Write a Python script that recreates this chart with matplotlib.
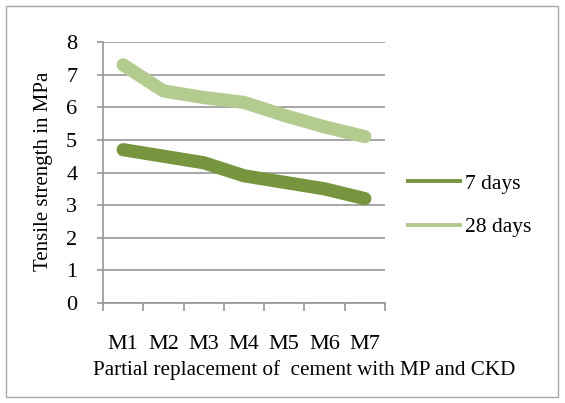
import numpy as np
import matplotlib.pyplot as plt

# Смеси и прочность на растяжение, МПа
mixes = ["M1", "M2", "M3", "M4", "M5", "M6", "M7"]
days7 = [4.7, 4.5, 4.3, 3.9, 3.7, 3.5, 3.2]
days28 = [7.3, 6.5, 6.3, 6.15, 5.75, 5.4, 5.1]

plt.rcParams['font.family'] = 'serif'
plt.rcParams['font.serif'] = ['Liberation Serif', 'DejaVu Serif']

fig = plt.figure(figsize=(5.65, 4.03), dpi=100)
ax = fig.add_axes([0.1823, 0.2481, 0.4991, 0.6476])

# Рамка вокруг всего графика
fig.patches.append(plt.Rectangle((0.011, 0.015), 0.976, 0.97, transform=fig.transFigure,
                                 fill=False, edgecolor="#a6a6a6", lw=1.0))

x = np.arange(len(mixes))
ax.plot(x, days7, color="#77953f", lw=9.5, solid_capstyle="round", solid_joinstyle="round",
        label="7 days")
ax.plot(x, days28, color="#b3cb8f", lw=9.5, solid_capstyle="round", solid_joinstyle="round",
        label="28 days")

ax.set_xlim(-0.5, 6.5)
ax.set_ylim(0, 8)
ax.set_yticks(range(0, 9))
ax.yaxis.grid(True, color="#969696", lw=1.2)
ax.set_axisbelow(True)

ax.set_xticks(x)
ax.set_xticklabels(mixes, fontsize=16)
ax.set_xticks(np.arange(-0.5, 7, 1), minor=True)
ax.tick_params(axis="x", which="major", length=0, pad=23)
ax.tick_params(axis="x", which="minor", length=5.5, width=1.2, color="#969696", direction="out")
ax.tick_params(axis="y", length=4.5, width=1.2, color="#969696", labelsize=16, pad=14)

for s in ["top", "right"]:
    ax.spines[s].set_visible(False)
for s in ["left", "bottom"]:
    ax.spines[s].set_color("#969696")
    ax.spines[s].set_linewidth(1.2)

# Подписи осей
fig.text(0.538, 0.082, "Partial replacement of  cement with MP and CKD",
         fontsize=15.2, ha="center", va="center")
fig.text(0.077, 0.576, "Tensile strength in MPa", fontsize=15,
         rotation=90, ha="center", va="center")

leg = ax.legend(loc="center left", bbox_to_anchor=(1.045, 0.374), frameon=False,
                borderaxespad=0, fontsize=15.5, handlelength=2.6, handletextpad=0.15,
                labelspacing=1.1)
for h in leg.get_lines():
    h.set_linewidth(2.8)
    h.set_solid_capstyle("butt")

plt.savefig("out.png", dpi=100)
